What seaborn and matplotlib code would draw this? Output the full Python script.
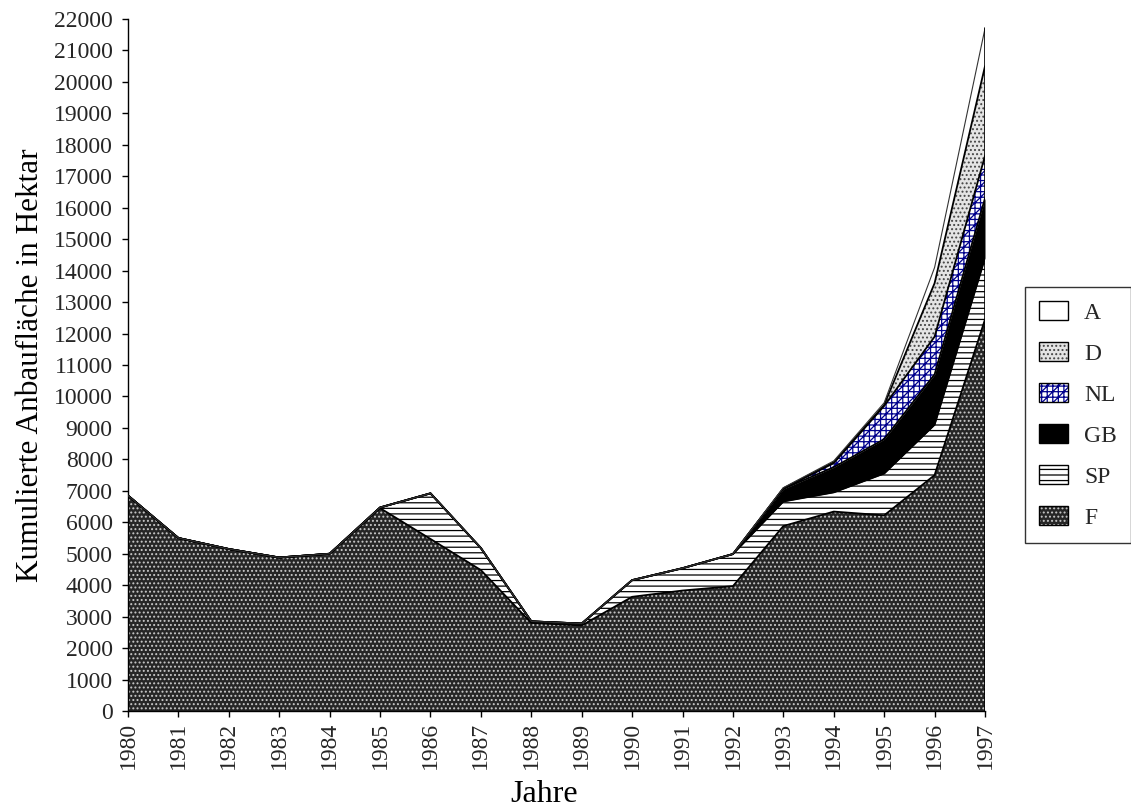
import numpy as np
import pandas as pd
import matplotlib
matplotlib.use("Agg")
import matplotlib.pyplot as plt
import seaborn as sns
from matplotlib.patches import Patch
from matplotlib.legend_handler import HandlerTuple

# ---- data (hectares per country, stacked) ----
years = list(range(1980, 1998))
F  = [6850, 5500, 5150, 4880, 5000, 6450, 5470, 4480, 2800, 2720, 3630, 3830, 3970, 5880, 6340, 6220, 7500, 12450]
SP = [0, 0, 0, 0, 0, 20, 1450, 700, 50, 60, 530, 710, 1020, 780, 610, 1330, 1600, 1950]
GB = [0, 0, 0, 0, 0, 0, 0, 0, 0, 0, 0, 0, 0, 400, 800, 1090, 1600, 1900]
NL = [0, 0, 0, 0, 0, 0, 0, 0, 0, 0, 0, 0, 0, 10, 130, 1060, 1200, 1350]
D  = [0, 0, 0, 0, 0, 0, 0, 0, 0, 0, 0, 0, 0, 10, 30, 30, 1700, 2850]
A  = [0, 0, 0, 0, 0, 0, 0, 0, 0, 0, 0, 0, 0, 20, 40, 70, 500, 1200]
series_names = ["F", "SP", "GB", "NL", "D", "A"]
legend_order = ["A", "D", "NL", "GB", "SP", "F"]
yticks = list(range(0, 22001, 1000))

sns.set_theme(style="ticks")
plt.rcParams["font.family"] = ["Liberation Serif", "DejaVu Serif"]
plt.rcParams["hatch.linewidth"] = 0.9

styles = {
    "F":  dict(facecolor="#262626", hatch="....", hcolor="#c8c8c8"),
    "SP": dict(facecolor="white", hatch="---", hcolor="black"),
    "GB": dict(facecolor="black", hatch=None, hcolor="black"),
    "NL": dict(facecolor="white", hatch="+++///", hcolor="#00008c"),
    "D":  dict(facecolor="#e4e4e4", hatch="....", hcolor="#444444"),
    "A":  dict(facecolor="white", hatch=None, hcolor="white"),
}

data = {"F": F, "SP": SP, "GB": GB, "NL": NL, "D": D, "A": A}
x = np.array(years)
cum = np.cumsum(np.array([data[n] for n in series_names], dtype=float), axis=0)

fig = plt.figure(figsize=(11.31, 8.07), dpi=100)
ax = fig.add_axes([128/1131, 1-711/807, (985-128)/1131, (711-19)/807])

lower = np.zeros(len(x))
for i, name in enumerate(series_names):
    st = styles[name]
    upper = cum[i]
    ax.fill_between(x, lower, upper, facecolor=st["facecolor"], hatch=st["hatch"],
                    edgecolor=st["hcolor"], linewidth=0, zorder=1 + i * 0.1)
    lower = upper

# boundary lines
long = pd.DataFrame({"year": np.tile(x, len(series_names)),
                     "top": cum.flatten(),
                     "layer": np.repeat(series_names, len(x))})
for i, name in enumerate(series_names):
    sub = long[long["layer"] == name]
    lw = 0.8 if name == "A" else 1.3
    col = "#333333" if name == "A" else "black"
    sns.lineplot(data=sub, x="year", y="top", color=col, linewidth=lw, ax=ax,
                 zorder=3, legend=False)
ax.plot([x[-1], x[-1]], [0, cum[-1][-1]], color="black", linewidth=1.2, zorder=3)

ax.set_xlim(1980, 1997)
ax.set_ylim(0, 22000)
ax.set_xticks(years)
ax.set_xticklabels([str(y) for y in years], rotation=90, fontsize=17)
ax.set_yticks(yticks)
ax.set_yticklabels([str(v) for v in yticks], fontsize=17)
ax.tick_params(axis="both", direction="out", length=4, width=1, color="black")
ax.tick_params(axis="y", pad=7)
ax.tick_params(axis="x", pad=4)
ax.grid(False)
ax.set_facecolor("white")
for s in ["top", "right"]:
    ax.spines[s].set_visible(False)
for s in ["left", "bottom"]:
    ax.spines[s].set_color("black")
    ax.spines[s].set_linewidth(1.0)

ax.set_ylabel("Kumulierte Anbaufläche in Hektar", fontsize=22.5, color="black")
ax.set_xlabel("Jahre", fontsize=23, color="black")
ax.yaxis.label.set_va("center")
ax.xaxis.label.set_va("center")
ax.yaxis.set_label_coords(-0.114, 0.5)
ax.xaxis.set_label_coords(0.485, -0.121)

# legend
handles = []
for name in legend_order:
    st = styles[name]
    p1 = Patch(facecolor=st["facecolor"], hatch=st["hatch"], edgecolor=st["hcolor"], linewidth=0)
    p2 = Patch(facecolor="none", edgecolor="black", linewidth=1.0)
    handles.append((p1, p2))
leg = fig.legend(handles, legend_order,
                 handler_map={tuple: HandlerTuple(ndivide=1, pad=0)},
                 loc="upper left", bbox_to_anchor=(1025/1131, 1-287/807),
                 fontsize=17, frameon=True, fancybox=False, shadow=False,
                 handlelength=1.2, handleheight=0.85, handletextpad=0.7,
                 labelspacing=0.78, borderpad=0.6, borderaxespad=0)
leg.get_frame().set_edgecolor("black")
leg.get_frame().set_linewidth(1.0)

fig.savefig("out.png", dpi=100, facecolor="white")
